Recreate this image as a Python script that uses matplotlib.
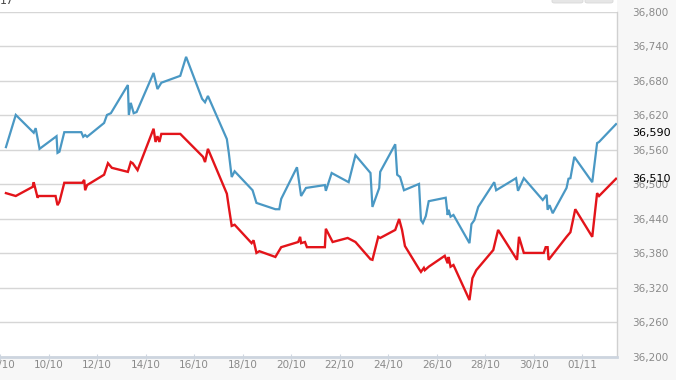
import matplotlib
matplotlib.use("Agg")
import matplotlib.pyplot as plt
from matplotlib.patches import FancyBboxPatch, Rectangle

# x = day of October (32 = 01/11)
blue_x = [8.245, 8.65, 9.39, 9.47, 9.63, 10.33, 10.37, 10.45, 10.65, 11.35, 11.43, 11.51, 11.59,
          12.29, 12.41, 12.57, 13.27, 13.31, 13.39, 13.51, 13.63, 14.33, 14.49, 14.65, 15.43,
          15.67, 16.33, 16.45, 16.57, 17.35, 17.43, 17.55, 17.67, 18.41, 18.57, 19.35, 19.51,
          19.59, 20.24, 20.41, 20.61, 21.39, 21.43, 21.67, 22.37, 22.65, 23.27, 23.35, 23.63,
          23.67, 24.29, 24.37, 24.49, 24.65, 25.27, 25.35, 25.43, 25.55, 25.67, 26.37, 26.45,
          26.49, 26.57, 26.69, 26.73, 27.35, 27.43, 27.55, 27.71, 28.37, 28.45, 29.27, 29.35,
          29.59, 30.37, 30.53, 30.57, 30.65, 30.78, 31.35, 31.43, 31.51, 31.67, 32.41, 32.61,
          32.69, 33.39]
blue_y = [36565, 36621, 36590, 36598, 36562, 36584, 36555, 36557, 36591, 36591, 36583, 36586, 36583,
          36607, 36621, 36624, 36673, 36621, 36642, 36624, 36626, 36694, 36666, 36677, 36689,
          36722, 36649, 36643, 36654, 36579, 36555, 36513, 36523, 36490, 36468, 36457, 36457,
          36475, 36530, 36480, 36494, 36499, 36489, 36520, 36504, 36551, 36520, 36461, 36494,
          36522, 36570, 36517, 36513, 36490, 36501, 36438, 36433, 36445, 36471, 36477, 36447,
          36456, 36444, 36447, 36444, 36398, 36431, 36438, 36461, 36504, 36490, 36511, 36489,
          36511, 36473, 36482, 36456, 36464, 36450, 36494, 36510, 36511, 36548, 36504, 36572,
          36574, 36605]

red_x = [8.245, 8.65, 9.35, 9.39, 9.55, 9.59, 10.29, 10.37, 10.45, 10.65, 11.39, 11.47, 11.51,
         11.59, 12.29, 12.45, 12.61, 13.27, 13.39, 13.47, 13.67, 14.33, 14.41, 14.49, 14.57,
         14.65, 15.43, 16.37, 16.45, 16.57, 17.35, 17.43, 17.55, 17.67, 18.37, 18.45, 18.57,
         18.69, 19.35, 19.59, 20.29, 20.37, 20.41, 20.57, 20.65, 21.39, 21.43, 21.71, 22.33,
         22.65, 23.27, 23.35, 23.59, 23.67, 24.29, 24.45, 24.57, 24.69, 25.27, 25.35, 25.47,
         25.51, 25.67, 26.33, 26.45, 26.49, 26.57, 26.69, 27.35, 27.47, 27.63, 28.33, 28.53,
         29.31, 29.39, 29.59, 30.41, 30.49, 30.57, 30.61, 31.35, 31.51, 31.71, 32.41, 32.61,
         32.69, 33.39]
red_y = [36485, 36480, 36496, 36504, 36477, 36480, 36480, 36464, 36470, 36503, 36503, 36508, 36490,
         36499, 36517, 36537, 36529, 36522, 36539, 36537, 36525, 36597, 36574, 36584, 36574,
         36588, 36588, 36548, 36539, 36562, 36484, 36461, 36428, 36430, 36398, 36403, 36381,
         36384, 36374, 36391, 36400, 36409, 36398, 36400, 36391, 36391, 36423, 36400, 36407,
         36400, 36370, 36369, 36409, 36407, 36421, 36440, 36421, 36393, 36353, 36348, 36355,
         36351, 36357, 36376, 36363, 36374, 36357, 36360, 36299, 36337, 36351, 36386, 36421,
         36369, 36409, 36381, 36381, 36391, 36391, 36369, 36409, 36417, 36457, 36409, 36485,
         36480, 36510]

x_ticks = [8, 10, 12, 14, 16, 18, 20, 22, 24, 26, 28, 30, 32]
x_labels = ["08/10", "10/10", "12/10", "14/10", "16/10", "18/10", "20/10", "22/10",
            "24/10", "26/10", "28/10", "30/10", "01/11"]
y_ticks = [36200, 36260, 36320, 36380, 36440, 36500, 36560, 36620, 36680, 36740, 36800]
y_labels = ["36,200", "36,260", "36,320", "36,380", "36,440", "36,500", "36,560",
            "36,620", "36,680", "36,740", "36,800"]
last_labels = [(36590, "36,590"), (36510, "36,510")]

W, H = 676, 380
fig = plt.figure(figsize=(W / 100, H / 100), dpi=100, facecolor="#f7f7f7")
# white strip above plot area
fig.patches.append(Rectangle((0, 1 - 12 / H), 617 / W, 12 / H, transform=fig.transFigure,
                             facecolor="white", edgecolor="none", zorder=0))
ax = fig.add_axes([0, 1 - 357 / H, 617 / W, 345 / H])
ax.set_facecolor("white")

ax.plot(blue_x, blue_y, color="#4a98c4", lw=1.6, solid_joinstyle="miter", zorder=3)
ax.plot(red_x, red_y, color="#e3141a", lw=1.7, solid_joinstyle="miter", zorder=3)

ax.set_xlim(8.245, 33.43)
ax.set_ylim(36200, 36800)

ax.set_yticks(y_ticks)
ax.set_yticklabels(y_labels)
ax.yaxis.tick_right()
ax.tick_params(axis="y", length=0, pad=11, labelsize=7.5, labelcolor="#8a8a8a")
ax.set_xticks(x_ticks)
ax.set_xticklabels(x_labels)
ax.tick_params(axis="x", length=4, width=0.8, color="#cfd6e0", direction="inout", pad=0,
               labelsize=7.5, labelcolor="#8a8a8a")

ax.grid(axis="y", color="#d6d6d6", lw=1)
ax.set_axisbelow(True)
for s in ["top", "left"]:
    ax.spines[s].set_visible(False)
ax.spines["right"].set_color("#d0d0d0")
ax.spines["right"].set_linewidth(1)
ax.spines["bottom"].set_color("#cdd5df")
ax.spines["bottom"].set_linewidth(2)

for val, txt in last_labels:
    ax.annotate(txt, xy=(1, val), xycoords=("axes fraction", "data"), xytext=(11, 0),
                textcoords="offset points", ha="left", va="center", fontsize=8,
                color="black", annotation_clip=False, zorder=5)

# cut-off title fragment and buttons at top
fig.text(0, 1 - 1 / H, "17", ha="left", va="center", fontsize=8, color="#444444")
for x0, x1 in [(552, 583), (585, 613)]:
    fig.patches.append(FancyBboxPatch((x0 / W, 1 - 3 / H), (x1 - x0) / W, 6 / H,
                                      boxstyle="round,pad=0,rounding_size=0.004",
                                      transform=fig.transFigure, facecolor="#e6e6e6",
                                      edgecolor="#d8d8d8", lw=0.6))

fig.savefig("out.png", dpi=100, facecolor=fig.get_facecolor())
